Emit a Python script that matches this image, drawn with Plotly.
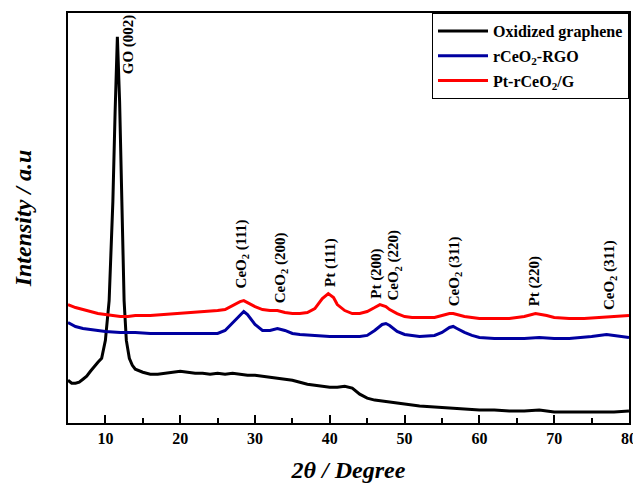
import plotly.graph_objects as go

# ---- data (intensity in arbitrary units) ----
go_x = [5, 5.5, 6, 6.5, 7, 7.5, 8, 8.5, 9, 9.5, 10, 10.5, 11, 11.3, 11.6, 11.9, 12.2, 12.5, 12.8, 13.2, 13.6, 14,
        15, 16, 17, 18, 19, 20, 21, 22, 23, 24, 25, 26, 27, 28, 29, 30, 31, 32, 33, 34, 35, 36, 37, 38, 39, 40,
        41, 42, 43, 44, 45, 46, 47, 48, 50, 52, 54, 56, 58, 60, 62, 64, 66, 68, 70, 72, 74, 76, 78, 80]
go_y = [43, 40, 40, 41, 44, 47, 52, 57, 61, 65, 83, 123, 223, 313, 388, 323, 213, 123, 83, 65, 58, 54,
        51, 49, 49, 50, 51, 52, 51, 50, 50, 49, 50, 49, 50, 49, 48, 48, 47, 46, 45, 44, 43, 41, 39, 38, 37, 36,
        36, 37, 35, 29, 25, 23, 22, 21, 19, 17, 16, 15, 14, 13, 13, 12, 12, 13, 11, 11, 11, 11, 11, 12]

rgo_x = [5, 6, 7, 8, 9, 10, 12, 14, 16, 18, 20, 22, 24, 25, 26, 27, 28, 28.5, 29, 30, 31, 32, 33, 34, 35, 36,
         38, 40, 42, 44, 45, 46, 47, 47.5, 48, 49, 50, 52, 54, 55, 56, 56.5, 57, 58, 59, 60, 62, 64, 66, 68,
         70, 72, 74, 75, 76, 77, 78, 79, 80]
rgo_y = [101, 97, 95, 94, 93, 92, 91, 91, 90, 90, 90, 90, 90, 90, 93, 101, 109, 112, 109, 99, 93, 93, 95, 93, 90, 89,
         88, 87, 87, 87, 88, 93, 99, 100, 98, 92, 89, 87, 88, 91, 96, 97, 95, 91, 88, 86, 85, 85, 85, 86,
         85, 85, 86, 87, 88, 89, 88, 87, 86]

pt_x = [5, 6, 7, 8, 9, 10, 11, 12, 13, 14, 16, 18, 20, 22, 24, 25, 26, 27, 28, 28.5, 29, 30, 31, 32, 33, 34, 35,
        36, 37, 38, 39, 39.8, 40.5, 41, 42, 43, 44, 45, 46, 46.7, 47.5, 48, 49, 50, 51, 52, 54, 55, 56, 56.5,
        57, 58, 60, 62, 64, 66, 67.5, 69, 70, 72, 74, 76, 78, 80]
pt_y = [119, 116, 114, 112, 110, 109, 108, 107, 107, 108, 108, 109, 110, 111, 112, 113, 114, 118, 122, 123, 121, 117,
        114, 113, 113, 111, 110, 110, 111, 115, 125, 130, 126, 119, 113, 110, 110, 112, 116, 119, 117, 114, 110,
        107, 106, 106, 106, 108, 110, 110, 109, 107, 105, 105, 105, 107, 110, 108, 106, 105, 105, 106, 107, 108]

series_names = ["Oxidized graphene", "rCeO<sub>2</sub>-RGO", "Pt-rCeO<sub>2</sub>/G"]
series_colors = ["#000000", "#0000a0", "#ff0000"]

peak_labels = ["GO (002)", "CeO<sub>2</sub> (111)", "CeO<sub>2</sub> (200)", "Pt (111)", "Pt (200)",
               "CeO<sub>2</sub> (220)", "CeO<sub>2</sub> (311)", "Pt (220)", "CeO<sub>2</sub> (311)"]
peak_x = [13.1, 28.3, 33.5, 40.0, 46.2, 48.65, 56.7, 67.4, 77.4]
peak_y = [348, 133, 118, 135, 123, 121, 115, 115, 111]

x_ticks = [10, 20, 30, 40, 50, 60, 70, 80]

FONT = "Liberation Serif"

fig = go.Figure()
for i, (xs, ys) in enumerate([(go_x, go_y), (rgo_x, rgo_y), (pt_x, pt_y)]):
    fig.add_trace(go.Scatter(x=xs, y=ys, mode="lines", name=series_names[i],
                             legendgroup=str(i),
                             line=dict(color=series_colors[i], width=3)))

for lab, px, py in zip(peak_labels, peak_x, peak_y):
    fig.add_annotation(x=px, y=py, text=lab, textangle=-90, showarrow=False,
                       xanchor="center", yanchor="bottom",
                       font=dict(family=FONT, size=15, color="black", weight="bold"))

# page body has an 8px margin, so the figure is sized to fit the window
fig.update_layout(
    width=633, height=484,
    margin=dict(l=60, r=12, t=3, b=69),
    paper_bgcolor="white", plot_bgcolor="white",
    font=dict(family=FONT, color="black"),
    showlegend=True,
    legend=dict(x=1, xanchor="right", y=1, yanchor="top",
                bgcolor="white", bordercolor="black", borderwidth=1,
                font=dict(family=FONT, size=16, color="black", weight="bold"),
                traceorder="grouped", tracegroupgap=1, itemwidth=50),
    xaxis=dict(range=[5, 80], tickvals=x_ticks, ticks="inside", ticklen=8, tickwidth=2,
               tickcolor="black", showline=True, linewidth=2, linecolor="black", mirror=True,
               showgrid=False, zeroline=False,
               tickfont=dict(family=FONT, size=16, color="black", weight="bold"),
               minor=dict(dtick=5, tick0=5, ticks="inside", ticklen=5, tickwidth=2, tickcolor="black"),
               title=dict(text="2θ / Degree", standoff=15,
                          font=dict(family=FONT, size=24, color="black", weight="bold", style="italic"))),
    yaxis=dict(range=[0, 412], showticklabels=False, ticks="", showline=True, linewidth=2,
               linecolor="black", mirror=True, showgrid=False, zeroline=False,
               title=dict(text="Intensity / a.u", standoff=28,
                          font=dict(family=FONT, size=24, color="black", weight="bold", style="italic"))),
)

fig.write_html("out.html")
